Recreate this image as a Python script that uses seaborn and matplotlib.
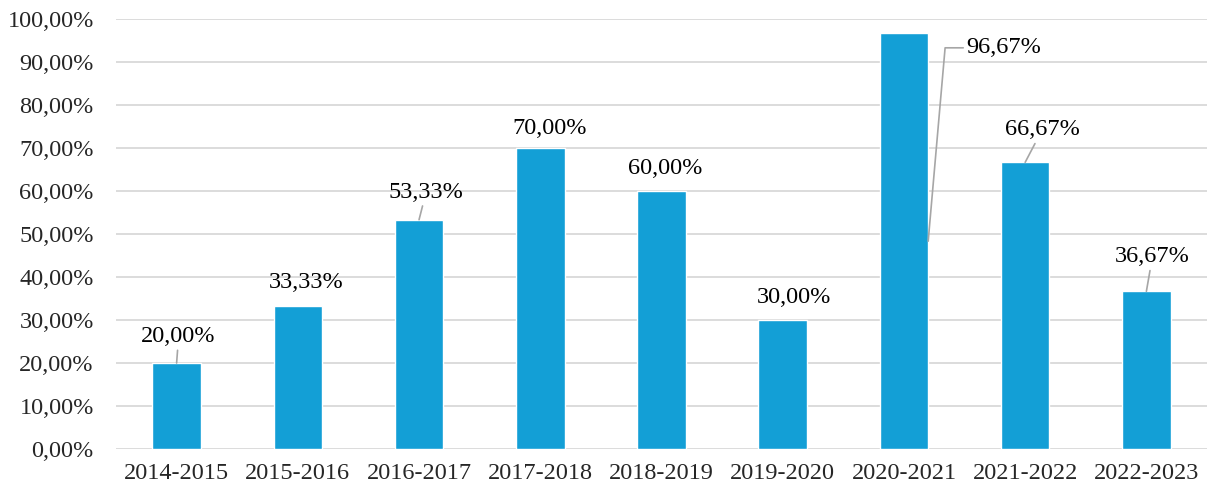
import matplotlib
matplotlib.use("Agg")
import matplotlib.pyplot as plt
import matplotlib.ticker as mticker
import pandas as pd
import seaborn as sns

years = ['2014-2015', '2015-2016', '2016-2017', '2017-2018', '2018-2019',
         '2019-2020', '2020-2021', '2021-2022', '2022-2023']
rates = [20.00, 33.33, 53.33, 70.00, 60.00, 30.00, 96.67, 66.67, 36.67]
y_ticks = [0, 10, 20, 30, 40, 50, 60, 70, 80, 90, 100]

# label placement (pixels from bar top) and which labels get a leader line
label_offsets = [(2, 21), (8, 18), (7, 22), (9, 14), (4, 17),
                 (11, 17), (100, -20), (17, 27), (6, 29)]
leader = [True, False, True, False, False, False, 'elbow', True, True]

df = pd.DataFrame({'year': years, 'rate': rates})

sns.set_style('white')
plt.rcParams['font.family'] = ['Liberation Serif', 'DejaVu Serif']

BAR = '#139FD6'
GRID = '#D9D9D9'
LEAD = '#A6A6A6'
FS = 17.5

fig = plt.figure(figsize=(12.15, 4.98), dpi=100)
ax = fig.add_axes([116 / 1215, 49 / 498, 1091 / 1215, 430 / 498])

sns.barplot(data=df, x='year', y='rate', color=BAR, saturation=1,
            width=0.4, ax=ax, zorder=3)

ax.set_ylim(0, 100)
ax.set_yticks(y_ticks)
ax.yaxis.set_major_formatter(
    mticker.FuncFormatter(lambda v, p: f'{v:.2f}%'.replace('.', ',')))
ax.yaxis.grid(True, color=GRID, lw=1.3, zorder=0)
ax.xaxis.grid(False)
ax.set_axisbelow(True)
for s in ax.spines.values():
    s.set_visible(False)
ax.tick_params(axis='y', length=0, pad=16, labelsize=FS)
ax.tick_params(axis='x', length=0, pad=10, labelsize=FS)
ax.set_xlabel('')
ax.set_ylabel('')

for i, v in enumerate(rates):
    txt = f'{v:.2f}%'.replace('.', ',')
    dx, dy = label_offsets[i]
    kw = dict(xy=(i, v), xytext=(dx, dy), textcoords='offset pixels',
              ha='center', va='baseline', fontsize=FS, color='black', zorder=5)
    if leader[i] == 'elbow':
        # anchor the leader at the bar's right edge, half way up
        anchor = (i + 0.2, v / 2)
        top_px = ax.transData.transform((i, v))
        anc_px = ax.transData.transform(anchor)
        kw['xy'] = anchor
        kw['xytext'] = (dx + top_px[0] - anc_px[0], dy + top_px[1] - anc_px[1])
        kw['arrowprops'] = dict(arrowstyle='-', color=LEAD, lw=1.2,
                                shrinkA=0, shrinkB=0,
                                connectionstyle='angle,angleA=0,angleB=85,rad=0')
    elif leader[i]:
        kw['arrowprops'] = dict(arrowstyle='-', color=LEAD, lw=1.2,
                                shrinkA=0, shrinkB=0)
    ax.annotate(txt, **kw)

fig.savefig('out.png', dpi=100)
